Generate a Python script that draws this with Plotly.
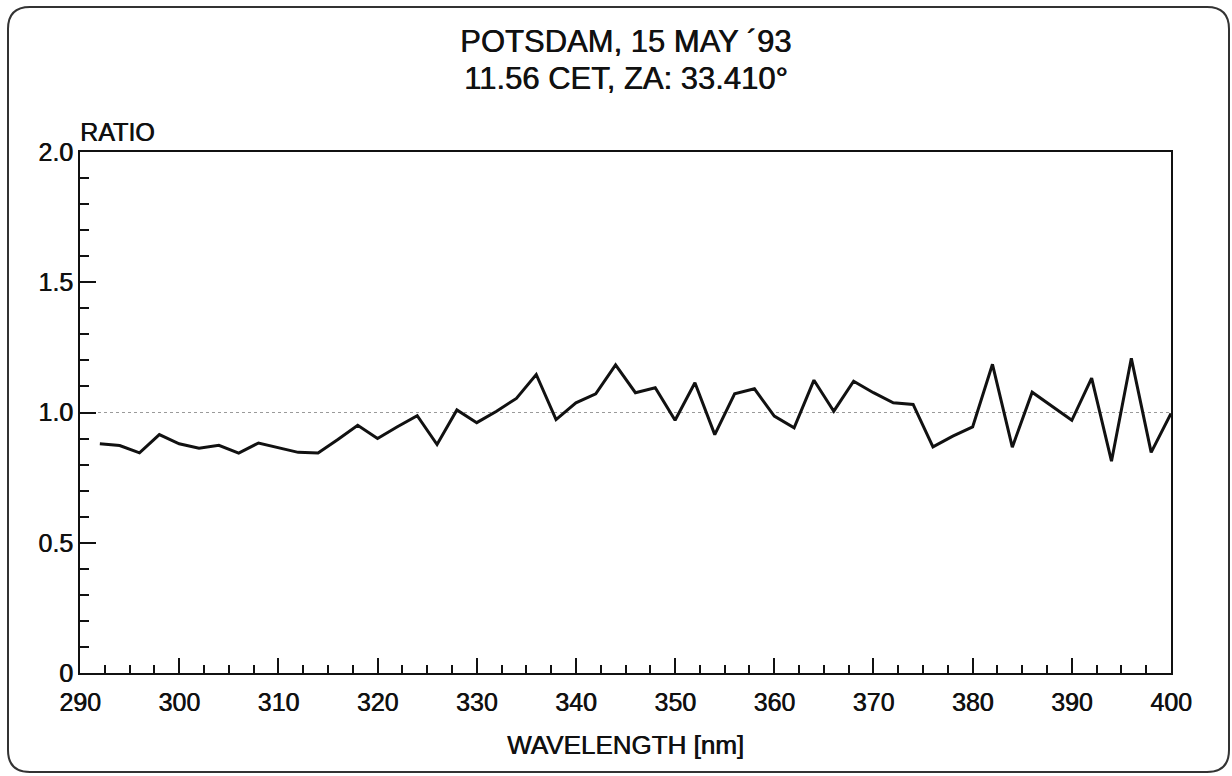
import plotly.graph_objects as go

wavelength = [292, 294, 296, 298, 300, 302, 304, 306, 308, 310,
              312, 314, 316, 318, 320, 322, 324, 326, 328, 330,
              332, 334, 336, 338, 340, 342, 344, 346, 348, 350,
              352, 354, 356, 358, 360, 362, 364, 366, 368, 370,
              372, 374, 376, 378, 380, 382, 384, 386, 388, 390,
              392, 394, 396, 398, 400]
ratio = [0.880, 0.873, 0.845, 0.915, 0.880, 0.863, 0.874, 0.844, 0.883, 0.865,
         0.847, 0.845, 0.896, 0.951, 0.900, 0.945, 0.988, 0.877, 1.010, 0.961,
         1.005, 1.054, 1.146, 0.973, 1.037, 1.072, 1.183, 1.076, 1.095, 0.970,
         1.114, 0.915, 1.072, 1.091, 0.986, 0.941, 1.124, 1.005, 1.120, 1.076,
         1.037, 1.031, 0.868, 0.909, 0.945, 1.185, 0.867, 1.078, 1.024, 0.970,
         1.132, 0.813, 1.208, 0.847, 0.996]

x_ticks = [290, 300, 310, 320, 330, 340, 350, 360, 370, 380, 390, 400]
y_ticks = [0, 0.5, 1.0, 1.5, 2.0]
y_ticktext = ["0", "0.5", "1.0", "1.5", "2.0"]
title_lines = ["POTSDAM, 15 MAY \u00b493", "11.56 CET, ZA: 33.410\u00b0"]
y_label = "RATIO"
x_label = "WAVELENGTH [nm]"
reference_level = 1.0

FONT = "Liberation Sans, Arial, sans-serif"
INK = "#111111"
SHADOW = "0.6px 0 0 #111111"
W, H = 1232, 776
ML, MR, MT, MB = 80, 61, 152, 103
PW, PH = W - ML - MR, H - MT - MB


def px(x):
    return (x - ML) / PW


def py(y):
    return (H - MB - y) / PH


def font(size):
    return dict(family=FONT, size=size, color=INK, shadow=SHADOW)


fig = go.Figure()
fig.add_trace(go.Scatter(x=[290, 400], y=[reference_level, reference_level], mode="lines",
                         line=dict(color="#9a9a9a", width=1, dash="dot"),
                         hoverinfo="skip", showlegend=False))
fig.add_trace(go.Scatter(x=wavelength, y=ratio, mode="lines",
                         line=dict(color=INK, width=3), showlegend=False))

axis_common = dict(showline=True, linecolor=INK, linewidth=2, mirror=True,
                   showgrid=False, zeroline=False, ticks="inside",
                   tickcolor=INK, tickwidth=2, tickfont=font(25))

fig.update_xaxes(range=[290, 400], tickvals=x_ticks, ticklen=15, ticklabelstandoff=6,
                 minor=dict(dtick=2.5, ticklen=8, ticks="inside", tickcolor=INK, tickwidth=2),
                 **axis_common)
fig.update_yaxes(range=[0, 2.0], tickvals=y_ticks, ticktext=y_ticktext, ticklen=16,
                 minor=dict(dtick=0.1, ticklen=9, ticks="inside", tickcolor=INK, tickwidth=2),
                 **axis_common)

annotations = [
    dict(text=title_lines[0], x=0.5, y=py(41), xref="paper", yref="paper",
         showarrow=False, xanchor="center", yanchor="middle", font=font(31)),
    dict(text=title_lines[1], x=0.5, y=py(78), xref="paper", yref="paper",
         showarrow=False, xanchor="center", yanchor="middle", font=font(31)),
    dict(text=y_label, x=px(78), y=py(132), xref="paper", yref="paper",
         showarrow=False, xanchor="left", yanchor="middle", font=font(25)),
    dict(text=x_label, x=0.5, y=py(745), xref="paper", yref="paper",
         showarrow=False, xanchor="center", yanchor="middle", font=font(26)),
]

# rounded outer frame
L, R, T, B = px(8), px(1229), py(7), py(772)
rx, ry = 22 / PW, 22 / PH
path = (f"M {L + rx} {T} L {R - rx} {T} Q {R} {T} {R} {T - ry} "
        f"L {R} {B + ry} Q {R} {B} {R - rx} {B} "
        f"L {L + rx} {B} Q {L} {B} {L} {B + ry} "
        f"L {L} {T - ry} Q {L} {T} {L + rx} {T} Z")
shapes = [dict(type="path", path=path, xref="paper", yref="paper",
               line=dict(color="#333333", width=2), layer="below")]

fig.update_layout(width=W, height=H, margin=dict(l=ML, r=MR, t=MT, b=MB),
                  plot_bgcolor="white", paper_bgcolor="white",
                  annotations=annotations, shapes=shapes, showlegend=False)

fig.write_html("out.html")
